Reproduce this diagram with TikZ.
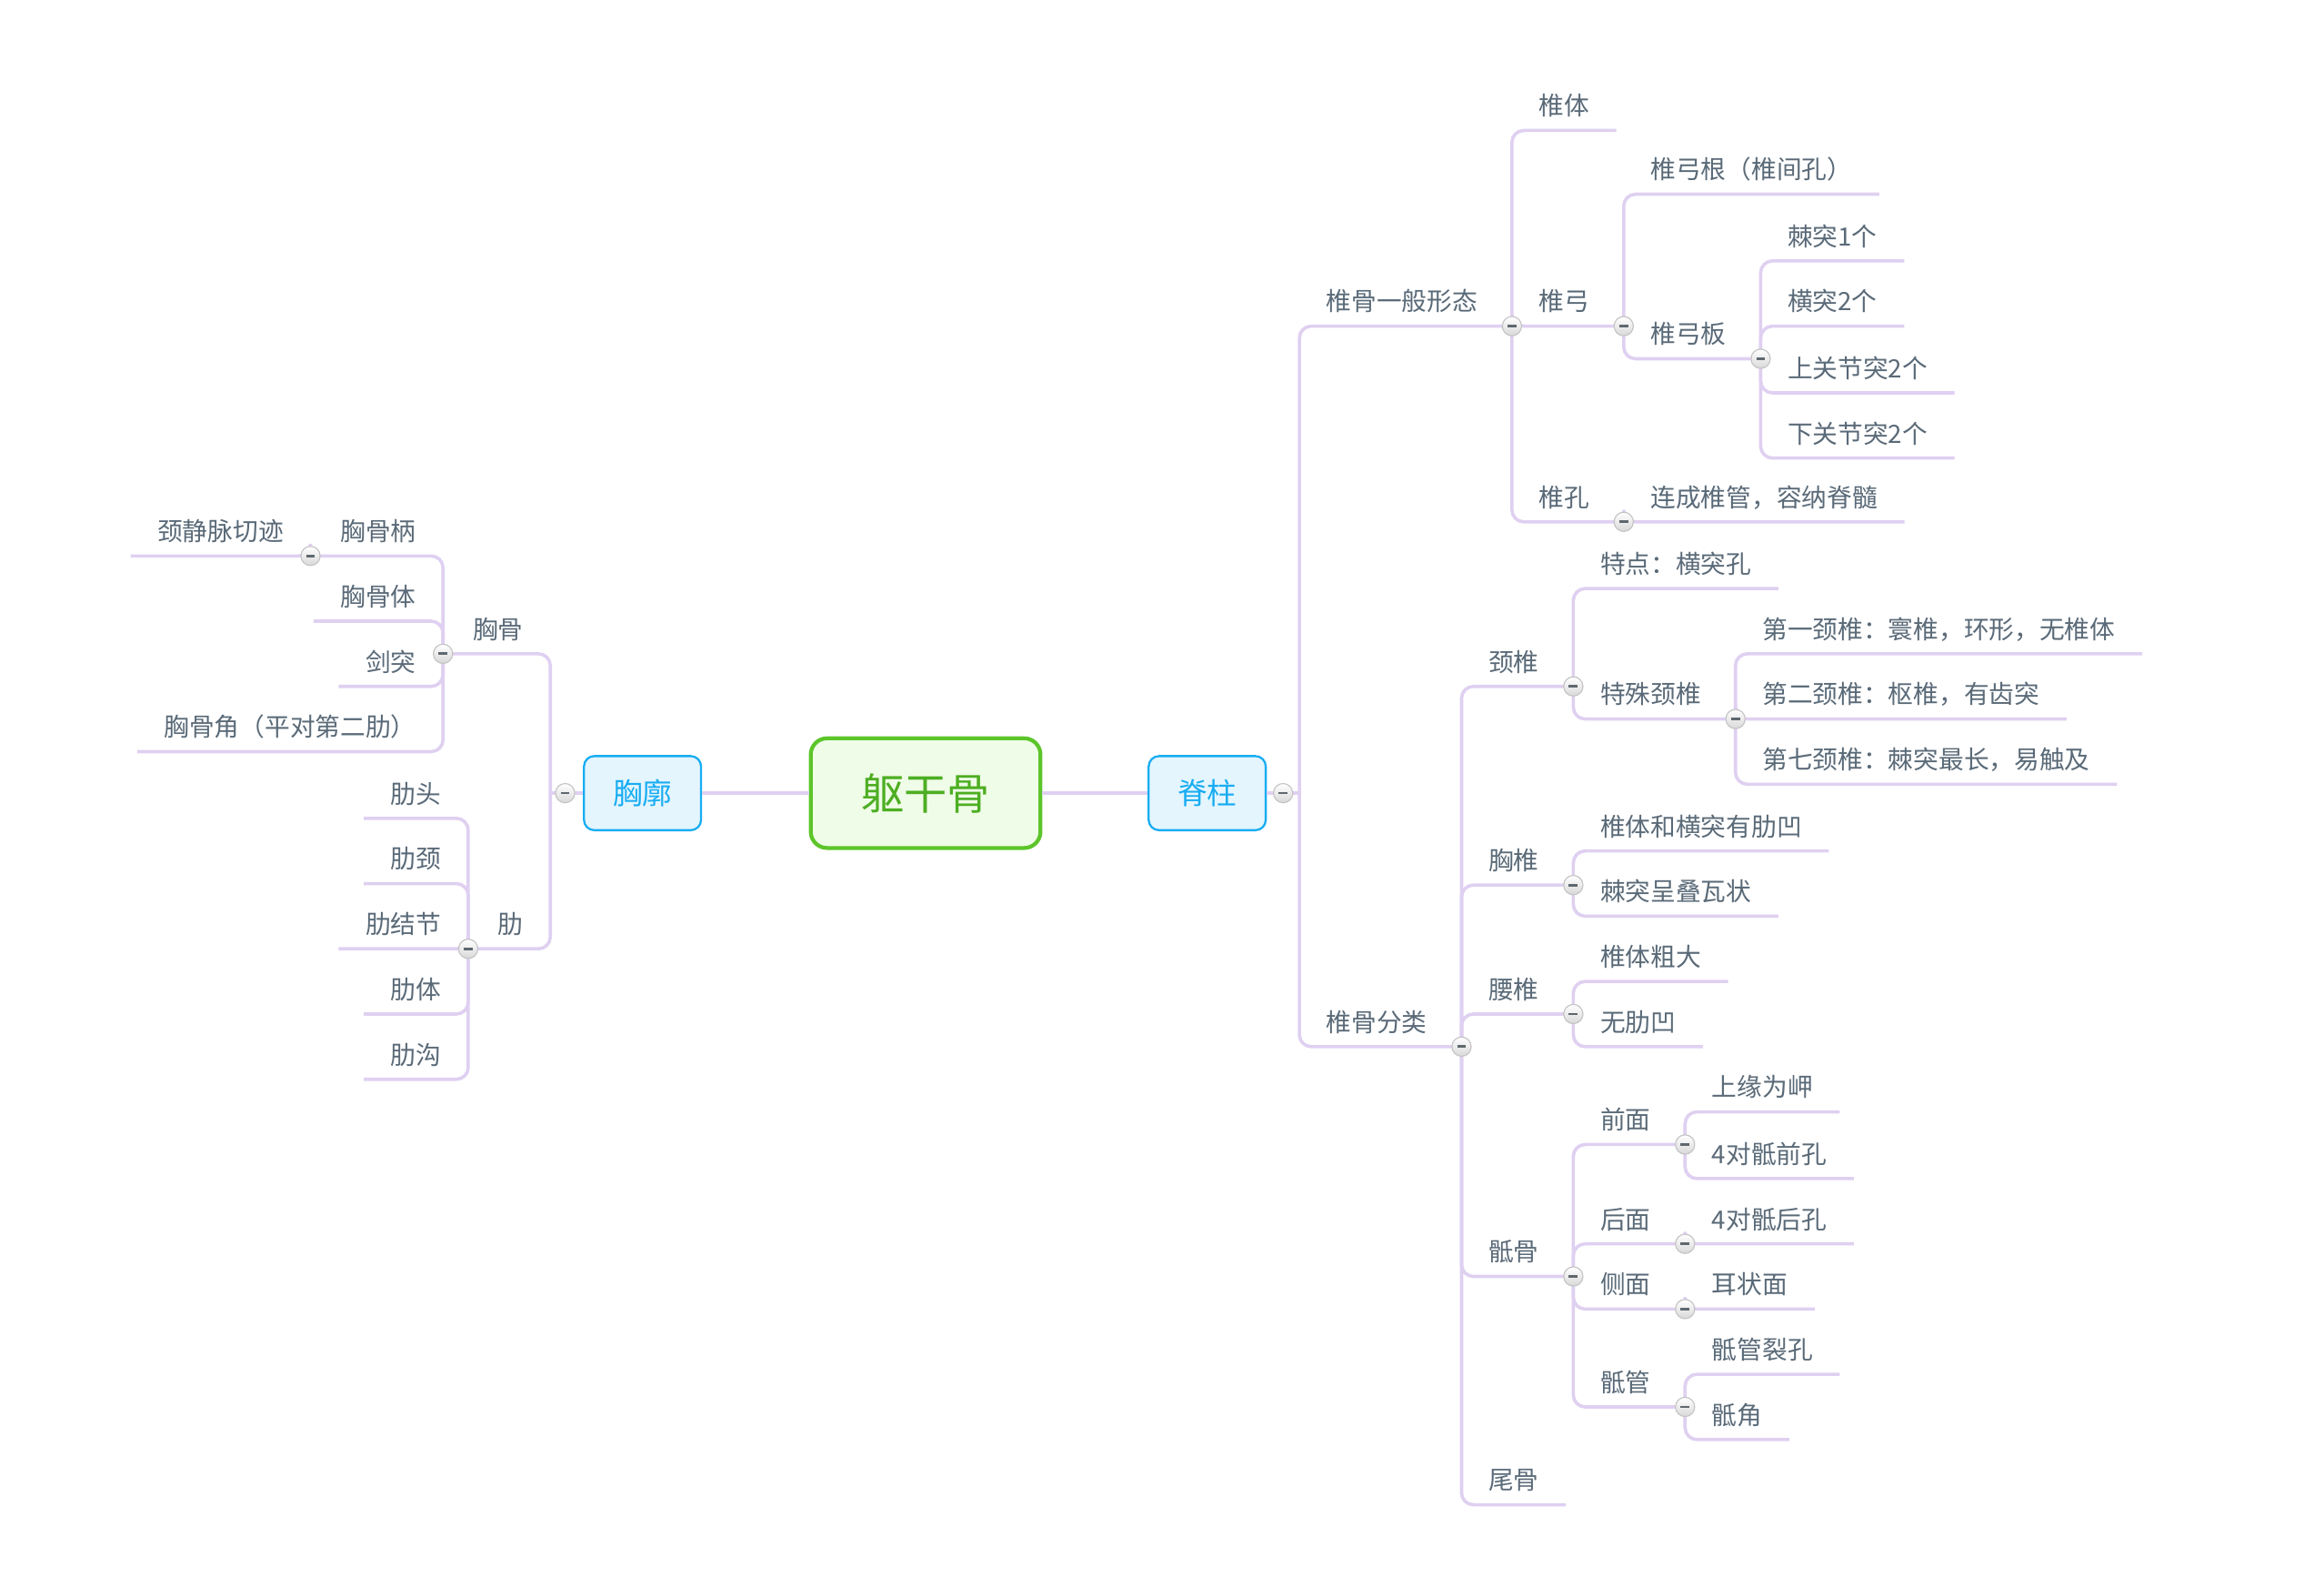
\documentclass[tikz,border=0pt]{standalone}
\usepackage{fontspec}
\setmainfont{Noto Sans CJK SC}
\usepackage{xcolor}
\usepackage{tikz}
\usetikzlibrary{positioning}
\definecolor{linelav}{HTML}{DFD0F1}
\definecolor{topictxt}{HTML}{5A6A78}
\definecolor{rootgreen}{HTML}{5CC52A}
\definecolor{rootfill}{HTML}{EFFCE7}
\definecolor{rootink}{HTML}{4DAE22}
\definecolor{mainblue}{HTML}{18ADF2}
\definecolor{mainfill}{HTML}{E4F5FE}
\definecolor{foldedge}{HTML}{C4C4C4}
\definecolor{foldshade}{HTML}{D8D8D8}
\definecolor{foldbar}{HTML}{5F686E}

\tikzset{
  ln/.style={draw=linelav, line width=2.2pt, rounded corners=8pt},
  rtopic/.style={anchor=south west, font=\fontsize{17}{20}\selectfont,
    text=topictxt, inner xsep=18pt, inner ysep=7pt,
    text height=13pt, text depth=3pt},
  ltopic/.style={rtopic, anchor=south east},
  rparent/.style={rtopic, execute at end node={\hspace{5pt}}},
  lparent/.style={ltopic, execute at begin node={\hspace{2pt}}},
  rootbox/.style={draw=rootgreen, fill=rootfill, line width=2.6pt,
    rounded corners=11pt, minimum width=155pt, minimum height=74pt,
    text=rootink, font=\fontsize{29}{34}\selectfont},
  mainbox/.style={draw=mainblue, fill=mainfill, line width=1.4pt,
    rounded corners=7pt, minimum width=79pt, minimum height=50pt,
    text=mainblue, font=\fontsize{20}{24}\selectfont},
  fold/.style={circle, draw=foldedge, line width=0.7pt, top color=white,
    bottom color=foldshade, minimum size=13pt, inner sep=0pt,
    path picture={\draw[foldbar, line width=1.7pt]
      ([xshift=-3pt]path picture bounding box.center) --
      ([xshift=3pt]path picture bounding box.center);}}
}

\begin{document}
\begin{tikzpicture}[x=1pt,y=-1pt]
  \useasboundingbox[fill=white] (0,0) rectangle (1568,1070);

  % centre and the two main topics
  \node[rootbox] (qgg) at (624.5,535) {躯干骨};
  \node[mainbox, right=71pt of qgg] (jz) {脊柱};
  \node[mainbox, left=72pt of qgg] (xk) {胸廓};
  \coordinate (jzr) at ([xshift=22pt]jz.east);
  \coordinate (xkl) at ([xshift=-22pt]xk.west);

  % 脊柱
  \node[rparent] (ygxt) at (jzr |- 0,220) {椎骨一般形态};
  \node[rtopic] (zt) at (ygxt.south east |- 0,88) {椎体};
  \node[rparent] (zg) at (ygxt.south east |- 0,220) {椎弓};
  \node[rtopic] (zgg) at (zg.south east |- 0,131) {椎弓根（椎间孔）};
  \node[rparent] (zgb) at (zg.south east |- 0,242) {椎弓板};
  \node[rtopic] (jt1) at (zgb.south east |- 0,176) {棘突1个};
  \node[rtopic] (ht2) at (zgb.south east |- 0,220) {横突2个};
  \node[rtopic] (sgj) at (zgb.south east |- 0,265) {上关节突2个};
  \node[rtopic] (xgj) at (zgb.south east |- 0,309) {下关节突2个};
  \node[rparent] (zk) at (ygxt.south east |- 0,352) {椎孔};
  \node[rtopic] (zkg) at (zk.south east |- 0,352) {连成椎管，容纳脊髓};

  \node[rparent] (ygfl) at (jzr |- 0,706) {椎骨分类};
  \node[rparent] (jzh) at (ygfl.south east |- 0,463) {颈椎};
  \node[rtopic] (tdh) at (jzh.south east |- 0,397) {特点：横突孔};
  \node[rparent] (tsj) at (jzh.south east |- 0,485) {特殊颈椎};
  \node[rtopic] (dy) at (tsj.south east |- 0,441) {第一颈椎：寰椎，环形，无椎体};
  \node[rtopic] (de) at (tsj.south east |- 0,485) {第二颈椎：枢椎，有齿突};
  \node[rtopic] (dq) at (tsj.south east |- 0,529) {第七颈椎：棘突最长，易触及};
  \node[rparent] (xzh) at (ygfl.south east |- 0,597) {胸椎};
  \node[rtopic] (xz1) at (xzh.south east |- 0,574) {椎体和横突有肋凹};
  \node[rtopic] (xz2) at (xzh.south east |- 0,618) {棘突呈叠瓦状};
  \node[rparent] (yzh) at (ygfl.south east |- 0,684) {腰椎};
  \node[rtopic] (yz1) at (yzh.south east |- 0,662) {椎体粗大};
  \node[rtopic] (yz2) at (yzh.south east |- 0,706) {无肋凹};
  \node[rparent] (dg) at (ygfl.south east |- 0,861) {骶骨};
  \node[rparent] (qm) at (dg.south east |- 0,772) {前面};
  \node[rtopic] (qm1) at (qm.south east |- 0,750) {上缘为岬};
  \node[rtopic] (qm2) at (qm.south east |- 0,795) {4对骶前孔};
  \node[rparent] (hm) at (dg.south east |- 0,839) {后面};
  \node[rtopic] (hm1) at (hm.south east |- 0,839) {4对骶后孔};
  \node[rparent] (cm) at (dg.south east |- 0,883) {侧面};
  \node[rtopic] (cm1) at (cm.south east |- 0,883) {耳状面};
  \node[rparent] (dgn) at (dg.south east |- 0,949) {骶管};
  \node[rtopic] (dgn1) at (dgn.south east |- 0,927) {骶管裂孔};
  \node[rtopic] (dgn2) at (dgn.south east |- 0,971) {骶角};
  \node[rtopic] (wg) at (ygfl.south east |- 0,1015) {尾骨};

  % 胸廓
  \node[lparent] (xg) at (xkl |- 0,441) {胸骨};
  \node[lparent] (xgb) at (xg.south west |- 0,375) {胸骨柄};
  \node[ltopic] (jjm) at (xgb.south west |- 0,375) {颈静脉切迹};
  \node[ltopic] (xgt) at (xg.south west |- 0,419) {胸骨体};
  \node[ltopic] (jiant) at (xg.south west |- 0,463) {剑突};
  \node[ltopic] (xgjiao) at (xg.south west |- 0,507) {胸骨角（平对第二肋）};
  \node[lparent] (lei) at (xkl |- 0,640) {肋};
  \node[ltopic] (ltou) at (lei.south west |- 0,552) {肋头};
  \node[ltopic] (ljing) at (lei.south west |- 0,596) {肋颈};
  \node[ltopic] (ljj) at (lei.south west |- 0,640) {肋结节};
  \node[ltopic] (lti) at (lei.south west |- 0,684) {肋体};
  \node[ltopic] (lgou) at (lei.south west |- 0,728) {肋沟};

  % branches
  \draw[ln] (qgg.east) -- (jz.west);
  \draw[ln] (qgg.west) -- (xk.east);
  \draw[ln] (jz.east) -- (jzr);
  \draw[ln] (xk.west) -- (xkl);
  \foreach \c in {ygxt,ygfl}
    \draw[ln] (jzr) |- (\c.south east);
  \foreach \c in {xg,lei}
    \draw[ln] (xkl) |- (\c.south west);
  \foreach \p/\c in {ygxt/zt,ygxt/zg,ygxt/zk,zg/zgg,zg/zgb,zgb/jt1,zgb/ht2,
      zgb/sgj,zgb/xgj,zk/zkg,ygfl/jzh,ygfl/xzh,ygfl/yzh,ygfl/dg,ygfl/wg,
      jzh/tdh,jzh/tsj,tsj/dy,tsj/de,tsj/dq,xzh/xz1,xzh/xz2,yzh/yz1,yzh/yz2,
      dg/qm,dg/hm,dg/cm,dg/dgn,qm/qm1,qm/qm2,hm/hm1,cm/cm1,dgn/dgn1,dgn/dgn2}
    \draw[ln] (\p.south east) |- (\c.south east);
  \foreach \p/\c in {xg/xgb,xg/xgt,xg/jiant,xg/xgjiao,xgb/jjm,
      lei/ltou,lei/ljing,lei/ljj,lei/lti,lei/lgou}
    \draw[ln] (\p.south west) |- (\c.south west);

  % collapse buttons
  \node[fold] (fjz) at ([xshift=11pt]jz.east) {};
  \node[fold] (fxk) at ([xshift=-12pt]xk.west) {};
  \foreach \n in {ygxt,zg,zgb,zk,ygfl,jzh,tsj,xzh,yzh,dg,qm,hm,cm,dgn}
    \node[fold] (f\n) at (\n.south east) {};
  \foreach \n in {xg,xgb,lei}
    \node[fold] (f\n) at (\n.south west) {};
\end{tikzpicture}
\end{document}
